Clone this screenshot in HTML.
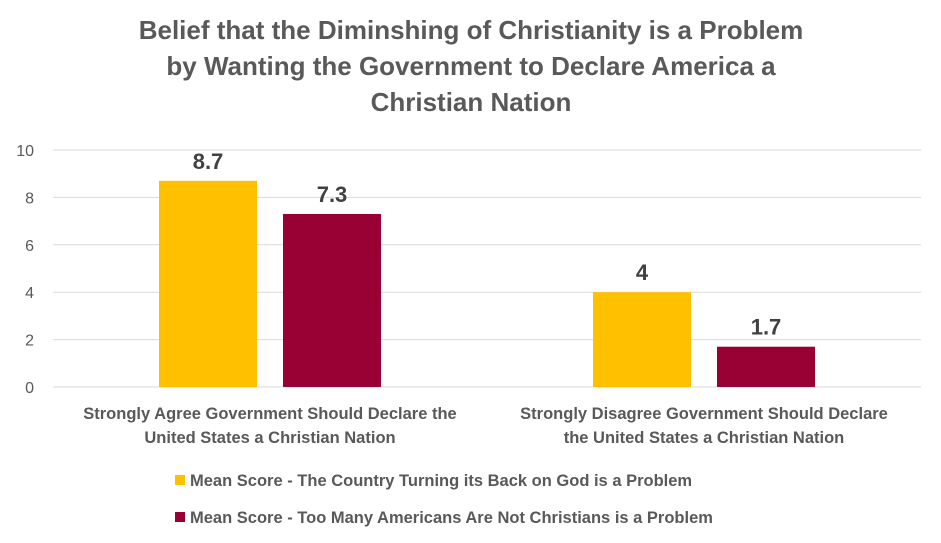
<!DOCTYPE html>
<html><head><meta charset="utf-8"><style>
body{margin:0;background:#fff;}
svg{display:block;font-family:"Liberation Sans",Arial,sans-serif;}
</style></head><body>
<svg id="chart" width="941" height="543" viewBox="0 0 941 543">
<g fill="#595959" font-weight="bold" font-size="26" text-anchor="middle">
<text x="471" y="39">Belief that the Diminshing of Christianity is a Problem</text>
<text x="471" y="75">by Wanting the Government to Declare America a</text>
<text x="471" y="111">Christian Nation</text>
</g>
<g id="grid"></g>
<g id="yticks"></g>
<g id="bars"></g>
<g id="xlabels" fill="#595959" font-weight="bold" font-size="16.5" text-anchor="middle">
<text x="270" y="419">Strongly Agree Government Should Declare the</text>
<text x="270" y="443">United States a Christian Nation</text>
<text x="704" y="419">Strongly Disagree Government Should Declare</text>
<text x="704" y="443">the United States a Christian Nation</text>
</g>
<g fill="#595959" font-weight="bold" font-size="16.5">
<g><rect x="175" y="475" width="10" height="10" fill="#FFC000"/><text x="190" y="486">Mean Score - The Country Turning its Back on God is a Problem</text></g>
<g><rect x="175" y="512" width="10" height="10" fill="#990033"/><text x="190" y="523">Mean Score - Too Many Americans Are Not Christians is a Problem</text></g>
</g>
</svg>
<script>
const categories=["Strongly Agree","Strongly Disagree"];
const seriesBackOnGod=[8.7,4];
const seriesNotChristians=[7.3,1.7];
const seriesLabels=[["8.7","4"],["7.3","1.7"]];
const yTicks=[0,2,4,6,8,10];
const NS="http://www.w3.org/2000/svg";
const x0=53,x1=921,yTop=150,yBot=387,yMax=10;
function yScale(v){return yBot-(v/yMax)*(yBot-yTop);}
function mk(tag,attrs,parent){const e=document.createElementNS(NS,tag);for(const k in attrs)e.setAttribute(k,attrs[k]);parent.appendChild(e);return e;}
const grid=document.getElementById('grid'),yt=document.getElementById('yticks'),bars=document.getElementById('bars');
yTicks.forEach(t=>{
 const l=mk('line',{x1:x0,x2:x1,y1:yScale(t),y2:yScale(t),stroke:'#d9d9d9','stroke-width':1},grid);
 
 
 const tx=mk('text',{x:34,y:yScale(t)+6,'text-anchor':'end','font-size':16,fill:'#595959'},yt);
 tx.textContent=t;
 
 
});
const band=(x1-x0)/categories.length,bw=98,gap=26;
const series=[[seriesBackOnGod,'#FFC000'],[seriesNotChristians,'#990033']];
categories.forEach((c,i)=>{
 const cx=x0+band*(i+0.5);
 series.forEach(([vals,col],s)=>{
  const bx=cx-gap/2-bw+s*(bw+gap);
  const r=mk('rect',{x:bx,y:yScale(vals[i]),width:bw,height:yBot-yScale(vals[i]),fill:col},bars);
  
  
  const t=mk('text',{x:bx+bw/2,y:yScale(vals[i])-12,'text-anchor':'middle','font-size':22,'font-weight':'bold',fill:'#404040'},bars);
  t.textContent=seriesLabels[s][i];
  
  
 });
});
</script>
</body></html>
